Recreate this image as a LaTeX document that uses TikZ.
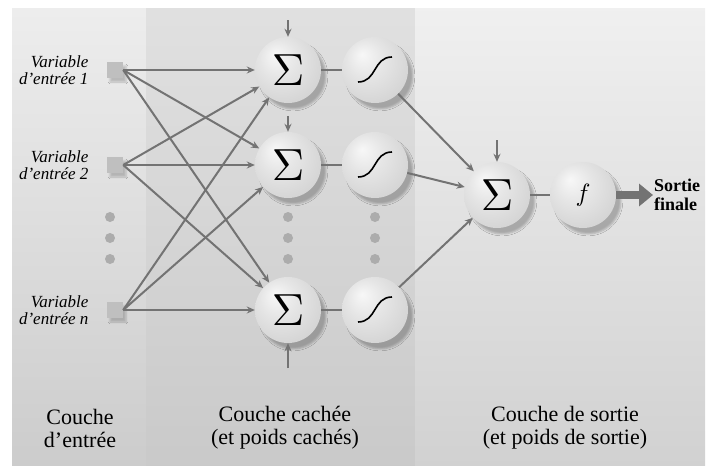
\documentclass[tikz,border=0pt]{standalone}
\usepackage{fontspec}
\setmainfont{Liberation Serif}
\usetikzlibrary{arrows.meta,positioning,shadows.blur}
\pgfdeclareradialshading{sphere}{\pgfpoint{-10bp}{12bp}}{color(0bp)=(gray!6); color(14bp)=(gray!20); color(34bp)=(gray!36); color(50bp)=(gray!50)}
\begin{document}
\begin{tikzpicture}[x=1pt,y=-1pt,
ball/.style={circle,minimum size=66pt,inner sep=0pt,shading=sphere,blur shadow={shadow xshift=5pt,shadow yshift=-6pt,shadow opacity=25}},
sumnode/.style={ball},
signode/.style={ball,path picture={\draw[line width=1.6pt] ([xshift=-17pt,yshift=-12pt]path picture bounding box.center) .. controls +(19pt,0pt) and +(-19pt,0pt) .. ([xshift=17pt,yshift=13pt]path picture bounding box.center);}},
inbox/.style={rectangle,fill=gray!50,minimum size=16pt,inner sep=0pt,blur shadow={shadow xshift=3pt,shadow yshift=-4pt,shadow opacity=20}},
dotnode/.style={circle,fill=gray!65,minimum size=10pt,inner sep=0pt},
varlbl/.style={align=right,anchor=east,font=\fontsize{17}{17}\selectfont\itshape},
layerlbl/.style={align=center,font=\fontsize{22}{23}\selectfont},
conn/.style={draw=gray!90!black,line width=2pt,-{Stealth[length=8pt,width=7pt]}},
link/.style={draw=gray!90!black,line width=2pt}
]
\useasboundingbox (0,0) rectangle (716,466);
% panels
\shade[top color=gray!14,middle color=white,bottom color=gray!40] (12,8) rectangle (146,466);
\shade[top color=gray!24,middle color=gray!6,bottom color=gray!42] (146,8) rectangle (415,466);
\shade[top color=gray!12,middle color=white,bottom color=gray!36] (415,8) rectangle (705,466);

% input layer
\node[inbox] (in1) at (115,70) {};
\node[inbox] (in2) at (115,165) {};
\node[inbox] (inn) at (115,310) {};
\node[varlbl] at (92,70) {Variable\\d'entrée 1};
\node[varlbl] at (92,165) {Variable\\d'entrée 2};
\node[varlbl] at (92,310) {Variable\\d'entrée \textit{n}};

% hidden layer
\node[sumnode] (sum1) at (288,70) {\scalebox{4.5}{$\Sigma$}};
\node[sumnode] (sum2) at (288,165) {\scalebox{4.5}{$\Sigma$}};
\node[sumnode] (sumn) at (288,310) {\scalebox{4.5}{$\Sigma$}};
\node[signode] (sig1) at (375,70) {};
\node[signode] (sig2) at (375,165) {};
\node[signode] (sign) at (375,310) {};

% dots
\foreach \x/\c in {110/a,288/b,375/c}{
  \foreach \y/\k in {217/1,238/2,259/3}{
    \node[dotnode] (dot\c\k) at (\x,\y) {};
  }
}

% output layer
\node[sumnode] (sumout) at (497,195) {\scalebox{4.5}{$\Sigma$}};
\node[ball] (fout) at (583,195) {\scalebox{2.5}{$f$}};
\node[align=left,anchor=west,inner sep=1pt,font=\fontsize{18}{19}\selectfont\bfseries] (outtxt) at (653,195) {Sortie\\finale};

% biases
\coordinate (b1) at (288,20);
\coordinate (b2) at (288,116);
\coordinate (bn) at (288,368);
\coordinate (bout) at (497,140);
\draw[conn] (b1) -- (sum1);
\draw[conn] (b2) -- (sum2);
\draw[conn] (bn) -- (sumn);
\draw[conn] (bout) -- (sumout);

% connections
\foreach \i in {in1,in2,inn}{
  \foreach \j in {sum1,sum2,sumn}{
    \draw[conn] (\i.east) -- (\j);
  }
}
\draw[link] (sum1) -- (sig1);
\draw[link] (sum2) -- (sig2);
\draw[link] (sumn) -- (sign);
\foreach \j in {sig1,sig2,sign}{
  \draw[conn] (\j) -- (sumout);
}
\draw[link] (sumout) -- (fout);
\draw[draw=gray!90!black,line width=8pt,-{Triangle[length=14pt,width=22pt]}] (fout) -- (outtxt);

% layer labels
\node[layerlbl] at (80,428) {Couche\\d'entrée};
\node[layerlbl] at (285,428) {Couche cachée\\(et poids cachés)};
\node[layerlbl] at (565,428) {Couche de sortie\\(et poids de sortie)};
\end{tikzpicture}
\end{document}
